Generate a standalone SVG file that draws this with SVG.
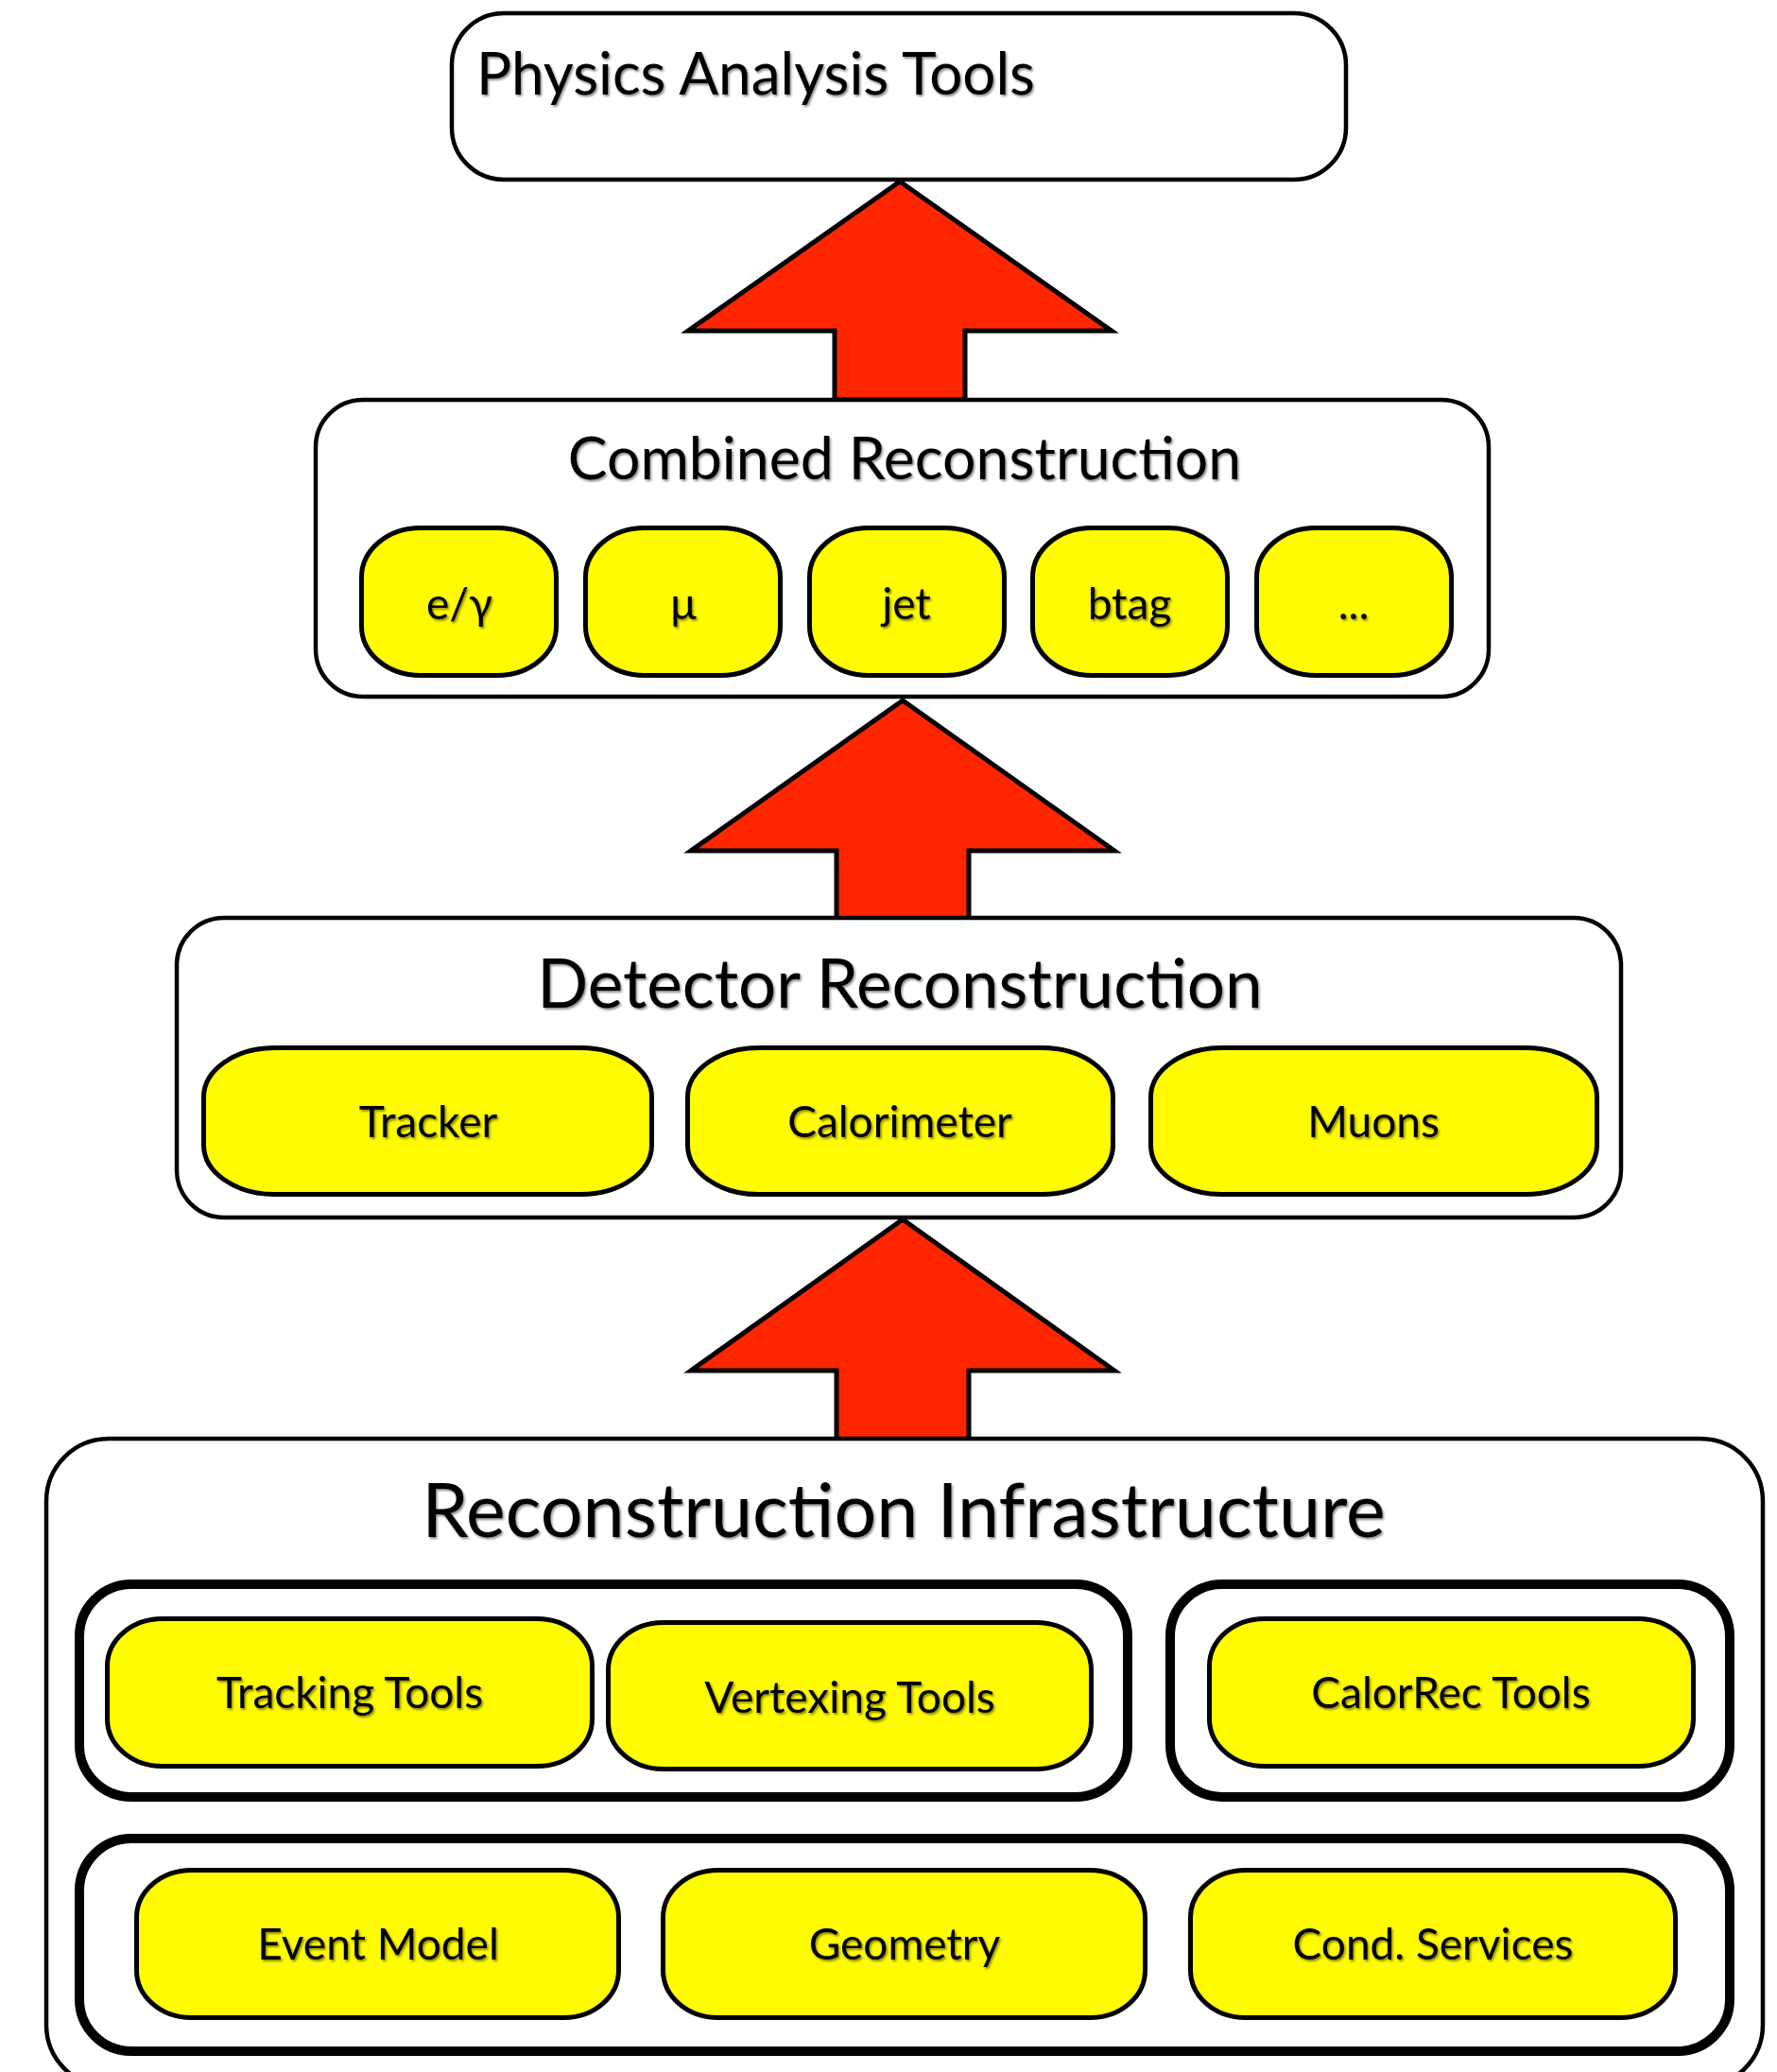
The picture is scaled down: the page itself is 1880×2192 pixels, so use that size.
<svg xmlns="http://www.w3.org/2000/svg" width="1880" height="2192" viewBox="0 0 1880 2192">
  <style>
    .box { fill: #ffffff; stroke: #000000; stroke-width: 4.5; }
    .grp { fill: #ffffff; stroke: #000000; stroke-width: 10; }
    .pill { fill: #FFFB00; stroke: #000000; stroke-width: 5; }
    .arrow { fill: #FF2600; stroke: #000000; stroke-width: 5; stroke-linejoin: miter; }
    text { font-family: Lato, "Open Sans", "Liberation Sans", sans-serif; fill: #000000; filter: url(#shadow); }
    .t1 { font-size: 62px; }
    .t2 { font-size: 62.5px; text-anchor: middle; }
    .t3 { font-size: 71px; text-anchor: middle; }
    .t4 { font-size: 79px; text-anchor: middle; }
    .lbl { font-size: 46px; text-anchor: middle; }
  </style>
  <defs>
    <filter id="shadow" x="-5%" y="-20%" width="110%" height="150%">
      <feDropShadow dx="1.5" dy="2" stdDeviation="1.2" flood-color="#000000" flood-opacity="0.45"/>
    </filter>
  </defs>
  <rect width="1880" height="2192" fill="#ffffff"/>

  <!-- upward block arrows between layers -->
  <g id="connectors">
    <polygon class="arrow" points="952,192 1176,350 1021,350 1021,423 883,423 883,350 728,350"/>
    <polygon class="arrow" points="955,741 1179,900 1025,900 1025,973 885,973 885,900 731,900"/>
    <polygon class="arrow" points="955,1290 1179,1450 1025,1450 1025,1524 885,1524 885,1450 731,1450"/>
  </g>

  <!-- top layer -->
  <g id="physics-analysis-tools">
    <rect class="box" x="478" y="14" width="946" height="176" rx="55" ry="55"/>
    <text class="t1" x="504" y="100">Physics Analysis Tools</text>
  </g>

  <!-- combined reconstruction layer -->
  <g id="combined-reconstruction">
    <rect class="box" x="334" y="423" width="1241" height="314" rx="50" ry="50"/>
    <text class="t2" x="957" y="507">Combined Reconstruction</text>
  </g>
  <g id="egamma">
    <rect class="pill" x="382.5" y="558.5" width="206" height="156" rx="62" ry="52"/>
    <text class="lbl" x="486" y="655">e/γ</text>
  </g>
  <g id="muon">
    <rect class="pill" x="619.5" y="558.5" width="206" height="156" rx="62" ry="52"/>
    <text class="lbl" x="723" y="655">μ</text>
  </g>
  <g id="jet">
    <rect class="pill" x="856.5" y="558.5" width="206" height="156" rx="62" ry="52"/>
    <text class="lbl" x="959" y="655">jet</text>
  </g>
  <g id="btag">
    <rect class="pill" x="1092.5" y="558.5" width="206" height="156" rx="62" ry="52"/>
    <text class="lbl" x="1195" y="655">btag</text>
  </g>
  <g id="more">
    <rect class="pill" x="1329.5" y="558.5" width="206" height="156" rx="62" ry="52"/>
    <text class="lbl" x="1432" y="655">...</text>
  </g>

  <!-- detector reconstruction layer -->
  <g id="detector-reconstruction">
    <rect class="box" x="187" y="971" width="1528" height="317" rx="50" ry="50"/>
    <text class="t3" x="952" y="1066">Detector Reconstruction</text>
  </g>
  <g id="tracker">
    <rect class="pill" x="215.5" y="1108.5" width="474" height="155" rx="75" ry="52"/>
    <text class="lbl" x="453" y="1203">Tracker</text>
  </g>
  <g id="calorimeter">
    <rect class="pill" x="727.5" y="1108.5" width="450" height="155" rx="75" ry="52"/>
    <text class="lbl" x="952" y="1203">Calorimeter</text>
  </g>
  <g id="muons">
    <rect class="pill" x="1217.5" y="1108.5" width="472" height="155" rx="75" ry="52"/>
    <text class="lbl" x="1453" y="1203">Muons</text>
  </g>

  <!-- reconstruction infrastructure layer -->
  <g id="reconstruction-infrastructure">
    <rect class="box" x="49" y="1522" width="1816" height="686" rx="66" ry="66"/>
    <text class="t4" x="956" y="1626">Reconstruction Infrastructure</text>
  </g>
  <g id="tracking-vertexing-group">
    <rect class="grp" x="84" y="1676" width="1109" height="225" rx="55" ry="55"/>
  </g>
  <g id="calorrec-group">
    <rect class="grp" x="1238" y="1676" width="592" height="225" rx="55" ry="55"/>
  </g>
  <g id="core-services-group">
    <rect class="grp" x="84" y="1945" width="1746" height="225" rx="55" ry="55"/>
  </g>
  <g id="tracking-tools">
    <rect class="pill" x="113.5" y="1712.5" width="513" height="156" rx="58" ry="50"/>
    <text class="lbl" x="370" y="1807">Tracking Tools</text>
  </g>
  <g id="vertexing-tools">
    <rect class="pill" x="643.5" y="1716.5" width="511" height="155" rx="58" ry="50"/>
    <text class="lbl" x="899" y="1812">Vertexing Tools</text>
  </g>
  <g id="calorrec-tools">
    <rect class="pill" x="1279.5" y="1712.5" width="512" height="156" rx="58" ry="50"/>
    <text class="lbl" x="1535" y="1807">CalorRec Tools</text>
  </g>
  <g id="event-model">
    <rect class="pill" x="144.5" y="1978.5" width="510" height="156" rx="58" ry="50"/>
    <text class="lbl" x="400" y="2073">Event Model</text>
  </g>
  <g id="geometry">
    <rect class="pill" x="701.5" y="1978.5" width="510" height="156" rx="58" ry="50"/>
    <text class="lbl" x="957" y="2073">Geometry</text>
  </g>
  <g id="cond-services">
    <rect class="pill" x="1259.5" y="1978.5" width="513" height="156" rx="58" ry="50"/>
    <text class="lbl" x="1516" y="2073">Cond. Services</text>
  </g>
</svg>
